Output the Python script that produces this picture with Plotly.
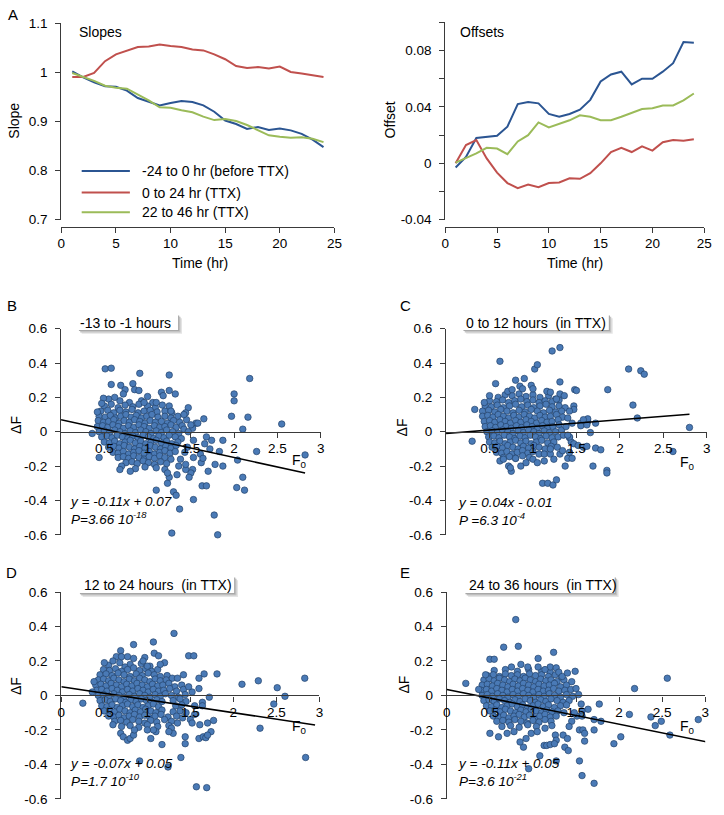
import plotly.graph_objects as go

# ---------------- data ----------------
hours = list(range(1, 25))
series_names = ["-24 to 0 hr (before TTX)", "0 to 24 hr (TTX)", "22 to 46 hr (TTX)"]

slope_before = [1.002, 0.99, 0.98, 0.972, 0.971, 0.963, 0.948, 0.94, 0.933, 0.938, 0.942, 0.94,
                0.933, 0.92, 0.902, 0.895, 0.885, 0.889, 0.883, 0.886, 0.882, 0.875, 0.863, 0.848]
slope_ttx = [0.991, 0.991, 0.999, 1.023, 1.037, 1.045, 1.052, 1.053, 1.057, 1.054, 1.052, 1.047,
             1.045, 1.037, 1.027, 1.013, 1.009, 1.011, 1.008, 1.012, 1.001, 0.998, 0.995, 0.991]
slope_late = [0.999, 0.991, 0.983, 0.973, 0.969, 0.967, 0.955, 0.943, 0.929, 0.928, 0.923, 0.919,
              0.91, 0.903, 0.905, 0.901, 0.893, 0.883, 0.872, 0.869, 0.867, 0.868, 0.865, 0.858]

offset_before = [-0.003, 0.0045, 0.018, 0.019, 0.0195, 0.026, 0.042, 0.0435, 0.0425, 0.035, 0.033, 0.035,
                 0.038, 0.045, 0.058, 0.063, 0.065, 0.056, 0.06, 0.06, 0.065, 0.071, 0.086, 0.0855]
offset_ttx = [0.0, 0.013, 0.0165, 0.0035, -0.0066, -0.014, -0.0176, -0.015, -0.017, -0.014, -0.0136, -0.0106,
              -0.011, -0.007, 0.0, 0.008, 0.011, 0.008, 0.012, 0.009, 0.015, 0.0165, 0.016, 0.017]
offset_late = [0.0005, 0.0035, 0.007, 0.011, 0.0105, 0.0065, 0.0155, 0.02, 0.029, 0.0255, 0.028, 0.0305,
               0.034, 0.033, 0.0305, 0.0305, 0.033, 0.0355, 0.0385, 0.039, 0.041, 0.041, 0.0447, 0.0495]

slope_ticks = [0.7, 0.8, 0.9, 1.0, 1.1]
slope_ticktext = ["0.7", "0.8", "0.9", "1", "1.1"]
offset_ticks = [-0.04, 0, 0.04, 0.08]
offset_ticktext = ["-0.04", "0", "0.04", "0.08"]
offset_minor_ticks = [-0.02, 0.02, 0.06, 0.1]
time_ticks = [0, 5, 10, 15, 20, 25]
dF_ticks = [-0.6, -0.4, -0.2, 0, 0.2, 0.4, 0.6]
dF_ticktext = ["-0.6", "-0.4", "-0.2", "0", "0.2", "0.4", "0.6"]
F0_ticks_noz = [0.5, 1, 1.5, 2, 2.5, 3]
F0_ticks_z = [0, 0.5, 1, 1.5, 2, 2.5, 3]

panel_titles = ["-13 to -1 hours", "0 to 12 hours\u00a0 (in TTX)",
                "12 to 24 hours\u00a0 (in TTX)", "24 to 36 hours\u00a0 (in TTX)"]
fit_text = [("y = -0.11x + 0.07", "P=3.66 10<sup>-18</sup>"),
            ("y = 0.04x - 0.01", "P =6.3 10<sup>-4</sup>"),
            ("y = -0.07x + 0.05", "P=1.7 10<sup>-10</sup>"),
            ("y = -0.11x + 0.05", "P=3.6 10<sup>-21</sup>")]
# slope, intercept, F0 end of the fitted line (as drawn)
fit_B = (-0.11, 0.07, 2.82)
fit_C = (0.04, -0.01, 2.8)
fit_D = (-0.075, 0.05, 2.95)
fit_E = (-0.101, 0.035, 3.02)

# (F0, dF) pairs, panel B
B_core = [
    (0.55, 0.19), (0.68, 0.18), (0.79, 0.17), (0.93, 0.18), (1.06, 0.17), (0.62, 0.2),
    (0.5, 0.15), (0.58, 0.16), (0.66, 0.14), (0.74, 0.155), (0.83, 0.145), (0.9, 0.16), (1.0, 0.15), (1.09, 0.14), (1.17, 0.155),
    (0.46, 0.12), (0.54, 0.125), (0.61, 0.11), (0.68, 0.125), (0.75, 0.115), (0.82, 0.13), (0.89, 0.11), (0.96, 0.12),
    (1.03, 0.125), (1.11, 0.115), (1.2, 0.12), (1.28, 0.11),
    (0.44, 0.09), (0.51, 0.085), (0.57, 0.095), (0.63, 0.08), (0.69, 0.09), (0.75, 0.1), (0.81, 0.085), (0.87, 0.095),
    (0.93, 0.08), (0.99, 0.09), (1.05, 0.1), (1.12, 0.085), (1.2, 0.09), (1.27, 0.08), (1.35, 0.09),
    (0.43, 0.065), (0.49, 0.055), (0.55, 0.06), (0.61, 0.07), (0.67, 0.05), (0.73, 0.065), (0.79, 0.055), (0.85, 0.07),
    (0.91, 0.06), (0.97, 0.05), (1.03, 0.065), (1.09, 0.055), (1.16, 0.06), (1.23, 0.05), (1.3, 0.065), (1.37, 0.055),
    (0.42, 0.03), (0.48, 0.035), (0.54, 0.025), (0.6, 0.04), (0.66, 0.03), (0.72, 0.02), (0.78, 0.035), (0.84, 0.025),
    (0.9, 0.04), (0.96, 0.03), (1.02, 0.02), (1.08, 0.035), (1.14, 0.025), (1.2, 0.03), (1.27, 0.04), (1.33, 0.025), (1.4, 0.035),
    (0.44, 0.0), (0.5, 0.005), (0.56, -0.005), (0.62, 0.01), (0.68, 0.0), (0.74, -0.01), (0.8, 0.005), (0.86, -0.005),
    (0.92, 0.01), (0.98, 0.0), (1.04, -0.01), (1.1, 0.005), (1.16, -0.005), (1.22, 0.01), (1.29, 0.0), (1.36, -0.01),
    (0.47, -0.03), (0.53, -0.025), (0.59, -0.035), (0.65, -0.02), (0.71, -0.03), (0.77, -0.04), (0.83, -0.025), (0.89, -0.035),
    (0.95, -0.02), (1.01, -0.03), (1.07, -0.04), (1.13, -0.025), (1.19, -0.035), (1.25, -0.02), (1.32, -0.03), (1.39, -0.04),
    (0.5, -0.06), (0.56, -0.065), (0.62, -0.055), (0.68, -0.07), (0.74, -0.06), (0.8, -0.05), (0.86, -0.065), (0.92, -0.055),
    (0.98, -0.07), (1.04, -0.06), (1.1, -0.05), (1.16, -0.065), (1.22, -0.055), (1.28, -0.07), (1.35, -0.06),
    (0.55, -0.09), (0.61, -0.085), (0.67, -0.095), (0.73, -0.08), (0.79, -0.09), (0.85, -0.1), (0.91, -0.085), (0.97, -0.095),
    (1.03, -0.08), (1.09, -0.09), (1.15, -0.1), (1.21, -0.085), (1.27, -0.095), (1.33, -0.08),
    (0.6, -0.12), (0.66, -0.125), (0.72, -0.115), (0.78, -0.13), (0.84, -0.12), (0.9, -0.11), (0.96, -0.125), (1.02, -0.115),
    (1.08, -0.13), (1.14, -0.12), (1.2, -0.11), (1.26, -0.125), (1.32, -0.115),
    (0.66, -0.15), (0.72, -0.145), (0.78, -0.155), (0.84, -0.14), (0.9, -0.15), (0.96, -0.16), (1.02, -0.145), (1.08, -0.155),
    (1.14, -0.14), (1.2, -0.15), (1.27, -0.16),
    (0.75, -0.18), (0.82, -0.175), (0.88, -0.185), (0.95, -0.17), (1.01, -0.18), (1.08, -0.19), (1.15, -0.175), (1.22, -0.185),
    (0.86, -0.215), (0.97, -0.205), (1.1, -0.21), (1.2, -0.22), (0.7, -0.2),
]
B_spread = [
    (0.51, 0.366), (0.58, 0.37), (0.58, 0.275), (0.91, 0.34), (1.25, 0.33), (2.18, 0.31), (2.0, 0.22), (2.0, 0.18),
    (0.83, 0.28), (0.69, 0.27), (1.25, 0.24), (1.32, 0.22), (1.16, 0.23), (1.18, 0.21), (1.0, 0.205), (0.85, 0.245),
    (0.9, 0.24), (0.74, 0.245), (0.72, 0.22), (0.49, 0.195), (0.47, 0.165), (1.47, 0.14), (1.25, 0.15), (1.1, 0.17),
    (0.96, 0.17), (1.97, 0.09), (2.16, 0.085), (2.1, 0.015), (2.55, 0.045), (1.65, 0.075), (1.56, 0.05), (1.44, 0.11),
    (1.52, 0.02), (1.42, 0.015), (1.27, 0.12), (0.36, -0.01), (0.42, 0.115), (0.44, -0.15), (0.68, -0.22), (0.8, -0.23),
    (1.1, -0.34), (1.23, -0.3), (1.3, -0.35), (1.33, -0.37), (1.37, -0.45), (1.28, -0.59), (1.53, -0.395), (1.63, -0.315),
    (1.68, -0.315), (1.77, -0.485), (1.81, -0.6), (2.03, -0.325), (2.12, -0.34), (2.1, -0.265), (2.04, -0.165),
    (2.26, -0.115), (2.82, -0.135), (1.87, -0.2), (1.78, -0.19), (1.7, -0.23), (1.87, -0.05), (1.83, -0.115),
    (1.74, -0.05), (1.72, -0.1), (1.68, -0.03), (1.66, -0.07), (1.61, -0.13), (1.62, -0.18), (1.64, -0.155),
    (1.53, -0.15), (1.52, -0.22), (1.5, -0.24), (1.48, -0.265), (1.44, -0.22), (1.44, -0.19), (1.38, -0.16),
    (1.36, -0.2), (1.34, -0.25), (1.25, -0.265), (1.23, -0.24), (1.45, 0.07), (1.5, 0.04), (1.53, -0.05), (1.42, 0.1),
    (1.58, 0.05), (1.46, -0.09), (1.43, -0.12), (1.47, 0.0),
]

C_core = [
    (0.6, 0.2), (0.68, 0.215), (0.76, 0.21), (0.84, 0.22), (0.92, 0.205), (1.0, 0.215), (1.08, 0.2), (1.18, 0.21), (1.26, 0.19),
    (0.5, 0.18), (0.58, 0.175), (0.65, 0.185), (0.72, 0.17), (0.79, 0.18), (0.86, 0.19), (0.93, 0.175), (1.0, 0.185),
    (1.07, 0.17), (1.14, 0.18), (1.22, 0.175), (1.3, 0.185),
    (0.45, 0.15), (0.52, 0.145), (0.59, 0.155), (0.66, 0.14), (0.73, 0.15), (0.8, 0.16), (0.87, 0.145), (0.94, 0.155),
    (1.01, 0.14), (1.08, 0.15), (1.15, 0.16), (1.22, 0.145), (1.3, 0.15), (1.37, 0.14),
    (0.42, 0.12), (0.49, 0.125), (0.56, 0.115), (0.63, 0.13), (0.7, 0.12), (0.77, 0.11), (0.84, 0.125), (0.91, 0.115),
    (0.98, 0.13), (1.05, 0.12), (1.12, 0.11), (1.19, 0.125), (1.26, 0.115), (1.33, 0.12),
    (0.42, 0.09), (0.48, 0.095), (0.54, 0.085), (0.6, 0.1), (0.66, 0.09), (0.72, 0.08), (0.78, 0.095), (0.84, 0.085),
    (0.9, 0.1), (0.96, 0.09), (1.02, 0.08), (1.08, 0.095), (1.14, 0.085), (1.2, 0.09), (1.27, 0.1), (1.34, 0.085),
    (0.44, 0.06), (0.5, 0.065), (0.56, 0.055), (0.62, 0.07), (0.68, 0.06), (0.74, 0.05), (0.8, 0.065), (0.86, 0.055),
    (0.92, 0.07), (0.98, 0.06), (1.04, 0.05), (1.1, 0.065), (1.16, 0.055), (1.22, 0.06), (1.29, 0.07),
    (0.45, 0.03), (0.51, 0.035), (0.57, 0.025), (0.63, 0.04), (0.69, 0.03), (0.75, 0.02), (0.81, 0.035), (0.87, 0.025),
    (0.93, 0.04), (0.99, 0.03), (1.05, 0.02), (1.11, 0.035), (1.17, 0.025), (1.23, 0.03), (1.3, 0.04),
    (0.47, 0.0), (0.53, 0.005), (0.59, -0.005), (0.65, 0.01), (0.71, 0.0), (0.77, -0.01), (0.83, 0.005), (0.89, -0.005),
    (0.95, 0.01), (1.01, 0.0), (1.07, -0.01), (1.13, 0.005), (1.19, -0.005), (1.26, 0.0), (1.33, 0.01),
    (0.49, -0.03), (0.55, -0.025), (0.61, -0.035), (0.67, -0.02), (0.73, -0.03), (0.79, -0.04), (0.85, -0.025), (0.91, -0.035),
    (0.97, -0.02), (1.03, -0.03), (1.09, -0.04), (1.15, -0.025), (1.22, -0.035), (1.29, -0.03),
    (0.5, -0.06), (0.56, -0.065), (0.62, -0.055), (0.68, -0.07), (0.74, -0.06), (0.8, -0.05), (0.86, -0.065), (0.92, -0.055),
    (0.98, -0.07), (1.04, -0.06), (1.1, -0.05), (1.17, -0.065), (1.24, -0.06),
    (0.53, -0.09), (0.59, -0.085), (0.65, -0.095), (0.71, -0.08), (0.77, -0.09), (0.83, -0.1), (0.89, -0.085), (0.95, -0.095),
    (1.01, -0.08), (1.07, -0.09), (1.14, -0.1), (1.21, -0.085),
    (0.58, -0.12), (0.64, -0.125), (0.7, -0.115), (0.76, -0.13), (0.82, -0.12), (0.88, -0.11), (0.94, -0.125), (1.0, -0.115), (1.07, -0.13),
    (0.66, -0.15), (0.73, -0.145), (0.8, -0.155), (0.88, -0.14), (0.96, -0.15),
]
C_spread = [
    (0.62, 0.41), (1.22, 0.47), (1.31, 0.49), (1.02, 0.365), (1.05, 0.39), (2.1, 0.365), (2.24, 0.355), (2.28, 0.335),
    (1.86, 0.245), (2.15, 0.155), (0.57, 0.28), (0.8, 0.3), (0.9, 0.31), (1.31, 0.29), (1.48, 0.245), (1.5, 0.24),
    (1.16, 0.235), (1.2, 0.23), (0.33, 0.13), (0.44, 0.17), (0.5, 0.21), (0.71, 0.235), (0.76, 0.245), (0.85, 0.265),
    (0.88, 0.25), (0.98, 0.27), (1.0, 0.25), (1.31, 0.22), (1.36, 0.21), (1.27, 0.19), (1.47, 0.15), (1.47, 0.13),
    (0.3, -0.055), (2.2, 0.08), (1.72, 0.05), (1.63, 0.06), (1.63, 0.075), (1.55, 0.05), (1.55, 0.035), (1.42, -0.035),
    (1.66, -0.005), (0.62, -0.17), (0.66, -0.16), (0.72, -0.2), (0.75, -0.23), (0.74, -0.21), (0.8, -0.155), (0.86, -0.2),
    (0.92, -0.18), (1.0, -0.16), (1.05, -0.18), (1.11, -0.3), (1.17, -0.3), (1.23, -0.31), (1.27, -0.28), (1.13, -0.17),
    (1.13, -0.13), (1.2, -0.13), (1.2, -0.1), (1.24, -0.16), (1.28, -0.09), (1.31, -0.13), (1.34, -0.11), (1.37, -0.2),
    (1.4, -0.155), (1.45, -0.155), (1.42, -0.12), (1.44, -0.06), (1.42, -0.03), (1.47, -0.07), (1.52, -0.08), (1.58, -0.09),
    (1.62, -0.085), (1.72, -0.095), (1.78, -0.105), (1.69, -0.2), (1.85, -0.225), (1.85, -0.24), (2.61, -0.115),
    (2.8, 0.025), (1.35, -0.02), (1.4, -0.02), (1.58, 0.07), (1.62, 0.04), (1.45, 0.05), (1.4, 0.08), (1.42, 0.12), (1.38, 0.03),
]

D_core = [
    (0.55, 0.175), (0.68, 0.19), (0.8, 0.18), (0.93, 0.185), (1.03, 0.17), (0.74, 0.165),
    (0.49, 0.15), (0.56, 0.145), (0.63, 0.155), (0.7, 0.14), (0.77, 0.15), (0.84, 0.16), (0.91, 0.145), (0.98, 0.155),
    (1.05, 0.14), (1.12, 0.15),
    (0.45, 0.12), (0.52, 0.125), (0.59, 0.115), (0.66, 0.13), (0.73, 0.12), (0.8, 0.11), (0.87, 0.125), (0.94, 0.115),
    (1.01, 0.13), (1.08, 0.12), (1.15, 0.11), (1.23, 0.115),
    (0.43, 0.09), (0.49, 0.095), (0.55, 0.085), (0.61, 0.1), (0.67, 0.09), (0.73, 0.08), (0.79, 0.095), (0.85, 0.085),
    (0.91, 0.1), (0.97, 0.09), (1.03, 0.08), (1.09, 0.095), (1.15, 0.085), (1.22, 0.09), (1.29, 0.1),
    (0.4, 0.06), (0.46, 0.065), (0.52, 0.055), (0.58, 0.07), (0.64, 0.06), (0.7, 0.05), (0.76, 0.065), (0.82, 0.055),
    (0.88, 0.07), (0.94, 0.06), (1.0, 0.05), (1.06, 0.065), (1.12, 0.055), (1.18, 0.06), (1.25, 0.07), (1.32, 0.05), (1.4, 0.06),
    (0.41, 0.03), (0.47, 0.035), (0.53, 0.025), (0.59, 0.04), (0.65, 0.03), (0.71, 0.02), (0.77, 0.035), (0.83, 0.025),
    (0.89, 0.04), (0.95, 0.03), (1.01, 0.02), (1.07, 0.035), (1.13, 0.025), (1.19, 0.03), (1.26, 0.04), (1.34, 0.025), (1.42, 0.035),
    (0.43, 0.0), (0.49, 0.005), (0.55, -0.005), (0.61, 0.01), (0.67, 0.0), (0.73, -0.01), (0.79, 0.005), (0.85, -0.005),
    (0.91, 0.01), (0.97, 0.0), (1.03, -0.01), (1.09, 0.005), (1.15, -0.005), (1.21, 0.01), (1.28, 0.0), (1.36, -0.01), (1.44, 0.005),
    (0.45, -0.03), (0.51, -0.025), (0.57, -0.035), (0.63, -0.02), (0.69, -0.03), (0.75, -0.04), (0.81, -0.025), (0.87, -0.035),
    (0.93, -0.02), (0.99, -0.03), (1.05, -0.04), (1.11, -0.025), (1.17, -0.035), (1.3, -0.03), (1.38, -0.02), (1.45, -0.035),
    (0.47, -0.06), (0.53, -0.065), (0.59, -0.055), (0.65, -0.07), (0.71, -0.06), (0.77, -0.05), (0.83, -0.065), (0.89, -0.055),
    (0.95, -0.07), (1.01, -0.06), (1.07, -0.05), (1.13, -0.065), (1.33, -0.06), (1.4, -0.055),
    (0.5, -0.09), (0.56, -0.085), (0.62, -0.095), (0.68, -0.08), (0.74, -0.09), (0.8, -0.1), (0.86, -0.085), (0.92, -0.095),
    (0.98, -0.08), (1.04, -0.09), (1.1, -0.1), (1.17, -0.085), (1.3, -0.095), (1.38, -0.09), (1.45, -0.1),
    (0.55, -0.12), (0.61, -0.125), (0.67, -0.115), (0.73, -0.13), (0.79, -0.12), (0.85, -0.11), (0.91, -0.125), (0.97, -0.115),
    (1.03, -0.13), (1.09, -0.12), (1.16, -0.11), (1.24, -0.125), (1.34, -0.12), (1.41, -0.13),
    (0.62, -0.15), (0.69, -0.145), (0.76, -0.155), (0.83, -0.14), (0.9, -0.15), (0.97, -0.16), (1.04, -0.145), (1.11, -0.155),
    (1.2, -0.14), (1.28, -0.15),
    (0.7, -0.18), (0.8, -0.175), (0.9, -0.185), (1.0, -0.17), (1.12, -0.18), (1.25, -0.175),
]
D_spread = [
    (1.31, 0.36), (1.07, 0.31), (0.84, 0.295), (0.69, 0.26), (0.64, 0.225), (0.7, 0.225), (0.77, 0.225), (0.84, 0.215),
    (0.97, 0.22), (1.08, 0.245), (1.13, 0.23), (1.48, 0.23), (1.54, 0.23), (1.81, 0.125), (1.66, 0.125), (1.6, 0.1),
    (1.6, 0.04), (1.72, -0.01), (1.64, -0.04), (1.64, -0.06), (2.1, 0.065), (2.29, 0.085), (2.51, 0.045), (2.6, -0.005),
    (2.47, -0.05), (2.83, 0.1), (2.84, -0.36), (2.31, -0.19), (1.7, -0.16), (1.74, -0.21), (1.77, -0.145), (1.61, -0.17),
    (1.6, -0.25), (1.65, -0.24), (1.68, -0.245), (1.7, -0.23), (1.44, -0.28), (1.44, -0.24), (1.39, -0.36), (1.24, -0.415),
    (0.91, -0.38), (1.57, -0.53), (1.69, -0.535), (1.17, -0.285), (1.04, -0.25), (1.1, -0.21), (1.07, -0.2), (1.0, -0.2),
    (0.25, -0.045), (0.69, -0.22), (0.72, -0.24), (0.77, -0.26), (0.8, -0.25), (0.84, -0.23), (1.28, -0.19), (1.3, -0.22),
    (1.25, -0.21), (1.5, -0.14), (1.52, -0.16), (1.55, -0.06), (1.52, 0.02), (1.48, 0.05), (1.2, 0.19), (1.15, 0.18),
    (1.35, 0.1), (1.42, 0.12), (1.55, -0.11), (0.6, 0.2), (0.5, 0.19), (0.95, 0.2), (1.0, 0.17), (0.38, 0.08), (0.36, 0.02),
    (0.85, -0.2), (0.6, -0.17), (1.35, -0.16),
]

E_core = [
    (0.55, 0.145), (0.68, 0.15), (0.82, 0.14), (0.95, 0.15), (1.1, 0.14), (1.2, 0.135),
    (0.47, 0.115), (0.54, 0.12), (0.61, 0.11), (0.68, 0.125), (0.75, 0.115), (0.82, 0.12), (0.89, 0.11), (0.96, 0.125),
    (1.03, 0.115), (1.1, 0.12), (1.18, 0.11), (1.26, 0.12), (1.33, 0.105),
    (0.43, 0.09), (0.49, 0.095), (0.55, 0.085), (0.61, 0.1), (0.67, 0.09), (0.73, 0.08), (0.79, 0.095), (0.85, 0.085),
    (0.91, 0.1), (0.97, 0.09), (1.03, 0.08), (1.09, 0.095), (1.15, 0.085), (1.21, 0.09), (1.28, 0.08), (1.36, 0.09),
    (0.41, 0.06), (0.47, 0.065), (0.53, 0.055), (0.59, 0.07), (0.65, 0.06), (0.71, 0.05), (0.77, 0.065), (0.83, 0.055),
    (0.89, 0.07), (0.95, 0.06), (1.01, 0.05), (1.07, 0.065), (1.13, 0.055), (1.19, 0.06), (1.25, 0.07), (1.32, 0.05), (1.39, 0.06),
    (0.4, 0.03), (0.46, 0.035), (0.52, 0.025), (0.58, 0.04), (0.64, 0.03), (0.7, 0.02), (0.76, 0.035), (0.82, 0.025),
    (0.88, 0.04), (0.94, 0.03), (1.0, 0.02), (1.06, 0.035), (1.12, 0.025), (1.18, 0.03), (1.24, 0.04), (1.3, 0.025),
    (1.37, 0.03), (1.44, 0.035),
    (0.41, 0.0), (0.47, 0.005), (0.53, -0.005), (0.59, 0.01), (0.65, 0.0), (0.71, -0.01), (0.77, 0.005), (0.83, -0.005),
    (0.89, 0.01), (0.95, 0.0), (1.01, -0.01), (1.07, 0.005), (1.13, -0.005), (1.19, 0.01), (1.25, 0.0), (1.32, -0.01),
    (1.39, 0.005), (1.46, -0.005),
    (0.43, -0.03), (0.49, -0.025), (0.55, -0.035), (0.61, -0.02), (0.67, -0.03), (0.73, -0.04), (0.79, -0.025), (0.85, -0.035),
    (0.91, -0.02), (0.97, -0.03), (1.03, -0.04), (1.09, -0.025), (1.15, -0.035), (1.21, -0.02), (1.28, -0.03), (1.35, -0.04), (1.42, -0.03),
    (0.46, -0.06), (0.52, -0.065), (0.58, -0.055), (0.64, -0.07), (0.7, -0.06), (0.76, -0.05), (0.82, -0.065), (0.88, -0.055),
    (0.94, -0.07), (1.0, -0.06), (1.06, -0.05), (1.12, -0.065), (1.18, -0.055), (1.25, -0.07), (1.32, -0.06), (1.39, -0.055),
    (0.5, -0.09), (0.56, -0.085), (0.62, -0.095), (0.68, -0.08), (0.74, -0.09), (0.8, -0.1), (0.86, -0.085), (0.92, -0.095),
    (0.98, -0.08), (1.04, -0.09), (1.1, -0.1), (1.16, -0.085), (1.22, -0.095), (1.29, -0.09), (1.36, -0.1),
    (0.54, -0.12), (0.6, -0.125), (0.66, -0.115), (0.72, -0.13), (0.78, -0.12), (0.84, -0.11), (0.9, -0.125), (0.96, -0.115),
    (1.02, -0.13), (1.08, -0.12), (1.14, -0.11), (1.2, -0.125), (1.27, -0.12),
    (0.58, -0.15), (0.65, -0.145), (0.72, -0.155), (0.79, -0.14), (0.86, -0.15), (0.93, -0.16), (1.0, -0.145), (1.07, -0.155),
    (1.14, -0.14), (1.21, -0.15),
    (0.64, -0.18), (0.74, -0.175), (0.84, -0.185), (0.94, -0.17), (1.04, -0.18), (1.14, -0.19), (1.22, -0.175),
]
E_spread = [
    (0.8, 0.44), (0.66, 0.28), (0.83, 0.285), (1.24, 0.25), (1.06, 0.215), (0.5, 0.21), (0.55, 0.21), (0.75, 0.165),
    (0.86, 0.18), (0.94, 0.165), (1.06, 0.165), (1.2, 0.165), (1.14, 0.15), (1.27, 0.16), (1.3, 0.135), (1.34, 0.11),
    (1.49, 0.14), (0.45, 0.12), (0.22, 0.07), (0.37, 0.035), (1.5, 0.04), (1.53, 0.005), (1.56, -0.05), (1.57, -0.09),
    (1.51, -0.12), (1.57, -0.12), (1.54, -0.2), (1.58, -0.2), (1.71, -0.2), (1.6, -0.265), (1.77, -0.05), (1.71, -0.14),
    (1.79, -0.15), (1.54, -0.38), (1.57, -0.465), (1.71, -0.51), (1.27, -0.38), (0.95, -0.425), (1.08, -0.35), (1.37, -0.3),
    (1.41, -0.32), (1.13, -0.29), (1.16, -0.29), (1.2, -0.285), (0.89, -0.3), (0.85, -0.27), (0.92, -0.25), (0.5, -0.22),
    (0.6, -0.24), (0.7, -0.22), (2.12, -0.11), (2.18, 0.04), (2.56, 0.1), (1.94, -0.28), (2.02, -0.24), (2.37, -0.125),
    (2.42, -0.175), (2.49, -0.15), (2.59, -0.23), (2.92, -0.14), (1.26, -0.23), (1.27, -0.26), (1.25, -0.28), (1.35, -0.23),
    (1.4, -0.25), (1.45, -0.15), (1.42, -0.18), (1.48, -0.1), (1.45, 0.08), (1.4, 0.13), (0.98, -0.22), (1.05, -0.21),
    (0.78, -0.21), (1.6, -0.22), (1.64, -0.08),
]

# ---------------- figure ----------------
W, H = 724, 815
FONT = "Liberation Sans, Arial, sans-serif"
AXC = "#3a3a3a"
LINE_COLORS = ["#2b5592", "#c0504d", "#9bbb59"]
MARK_FILL = "#4a7ab6"
MARK_EDGE = "#24436b"


def fx(px):
    return px / W


def fy(py):
    return 1 - py / H


fig = go.Figure()

for vals, name, c in zip([slope_before, slope_ttx, slope_late], series_names, LINE_COLORS):
    fig.add_trace(go.Scatter(x=hours, y=vals, mode="lines", name=name, showlegend=False,
                             line=dict(color=c, width=2), xaxis="x", yaxis="y"))
for vals, name, c in zip([offset_before, offset_ttx, offset_late], series_names, LINE_COLORS):
    fig.add_trace(go.Scatter(x=hours, y=vals, mode="lines", name=name, showlegend=False,
                             line=dict(color=c, width=2), xaxis="x2", yaxis="y2"))

panels = [(B_core + B_spread, fit_B, "3"), (C_core + C_spread, fit_C, "4"),
          (D_core + D_spread, fit_D, "5"), (E_core + E_spread, fit_E, "6")]
for pts, fit, ax in panels:
    fig.add_trace(go.Scatter(x=[p[0] for p in pts], y=[p[1] for p in pts], mode="markers",
                             showlegend=False, cliponaxis=False,
                             marker=dict(size=6.5, color=MARK_FILL, line=dict(color=MARK_EDGE, width=0.7)),
                             xaxis="x" + ax, yaxis="y" + ax))
    m, b, xend = fit
    fig.add_trace(go.Scatter(x=[0, xend], y=[b, m * xend + b], mode="lines", showlegend=False,
                             cliponaxis=False, line=dict(color="black", width=1.6),
                             xaxis="x" + ax, yaxis="y" + ax))

tickfont = dict(family=FONT, size=13.5, color="black")


def xaxis(dom_px, pos_py, rng, tv, tt, layer="below traces"):
    return dict(domain=[fx(dom_px[0]), fx(dom_px[1])], anchor="free", position=fy(pos_py),
                range=rng, tickvals=tv, ticktext=tt, showline=True, linecolor=AXC, linewidth=1.3,
                ticks="outside", ticklen=5, tickcolor=AXC, tickwidth=1.2, showgrid=False,
                zeroline=False, tickfont=tickfont, layer=layer, ticklabelstandoff=-1)


def yaxis(dom_py, anchor, rng, tv, tt, layer="below traces"):
    return dict(domain=[fy(dom_py[1]), fy(dom_py[0])], anchor=anchor, range=rng, tickvals=tv,
                ticktext=tt, showline=True, linecolor=AXC, linewidth=1.3, ticks="outside",
                ticklen=5, tickcolor=AXC, tickwidth=1.2, showgrid=False, zeroline=False,
                tickfont=tickfont, layer=layer, ticklabelstandoff=5)


tt_time = [str(t) for t in time_ticks]
yaxis2 = yaxis((15.6, 216.7), "x2", [-0.04, 0.1], offset_ticks, offset_ticktext)
yaxis2["minor"] = dict(tickmode="array", tickvals=offset_minor_ticks, ticks="outside", ticklen=5,
                       tickcolor=AXC, tickwidth=1.2, showgrid=False)
layout_axes = dict(
    xaxis=xaxis((58.3, 336), 224, [0, 25], time_ticks, tt_time),
    yaxis=yaxis((16.7, 216.7), "x", [0.7, 1.1], slope_ticks, slope_ticktext),
    xaxis2=xaxis((448.7, 712), 224, [0, 25], time_ticks, tt_time),
    yaxis2=yaxis2,
    xaxis3=xaxis((58, 322), 432.7, [0, 3], F0_ticks_noz, [str(v) for v in F0_ticks_noz], "above traces"),
    yaxis3=yaxis((327.7, 537.7), "x3", [-0.6, 0.6], dF_ticks, dF_ticktext, "above traces"),
    xaxis4=xaxis((449.5, 714.7), 432.7, [0, 3], F0_ticks_noz, [str(v) for v in F0_ticks_noz], "above traces"),
    yaxis4=yaxis((327.7, 537.7), "x4", [-0.6, 0.6], dF_ticks, dF_ticktext, "above traces"),
    xaxis5=xaxis((58.3, 320.7), 701.3, [0, 3], F0_ticks_z, [str(v) for v in F0_ticks_z], "above traces"),
    yaxis5=yaxis((596, 806.7), "x5", [-0.6, 0.6], dF_ticks, dF_ticktext, "above traces"),
    xaxis6=xaxis((450.3, 713), 701.3, [0, 3], F0_ticks_z, [str(v) for v in F0_ticks_z], "above traces"),
    yaxis6=yaxis((596, 806.7), "x6", [-0.6, 0.6], dF_ticks, dF_ticktext, "above traces"),
)

annotations = []


def ann(text, px, py, xanchor="left", size=14, angle=0, italic=False):
    if italic:
        text = "<i>" + text + "</i>"
    annotations.append(dict(text=text, x=fx(px), y=fy(py), xref="paper", yref="paper",
                            xanchor=xanchor, yanchor="middle", showarrow=False, textangle=angle,
                            borderpad=0, align="left",
                            font=dict(family=FONT, size=size, color="black")))


# panel letters
for letter, px, py in [("A", 9, 8), ("B", 8, 304), ("C", 408, 304), ("D", 8, 576), ("E", 408, 576)]:
    ann(letter, px, py, "center", 15)

ann("Slopes", 75, 25)
ann("Offsets", 463, 25)
ann("Slope", 10, 116, "center", 14, -90)
ann("Offset", 392, 115, "center", 14, -90)
ann("Time (hr)", 199.7, 261, "center", 14)
ann("Time (hr)", 581, 261, "center", 14)

# manual legend in panel A
shapes = []
for name, c, py in zip(series_names, LINE_COLORS, [167, 189, 209]):
    shapes.append(dict(type="line", xref="paper", yref="paper", x0=fx(79), x1=fx(128),
                       y0=fy(py), y1=fy(py), line=dict(color=c, width=2)))
    ann(name, 139, py, "left", 14)

# scatter panel decorations
box_px = [(75, 177, 313, 329), (466, 615, 313, 329), (76, 234, 580, 597), (468, 621, 580, 597)]
title_pos = [(76, 322), (468.7, 322), (80, 589), (472, 589)]
dF_pos = [(12, 426), (405, 428), (12, 692), (407, 690)]
F0_pos = [(300, 463), (695, 465), (300, 733), (695, 733)]
eq_pos = [(65.7, 513), (461, 514), (65.7, 779.5), (461, 779.5)]

for i in range(4):
    x0, x1, y0, y1 = box_px[i]
    for off, col in [(4, "#e4e4e4"), (2.5, "#c4c4c4"), (1.2, "#a8a8a8")]:
        shapes.append(dict(type="rect", xref="paper", yref="paper", x0=fx(x0 + off), x1=fx(x1 + off),
                           y0=fy(y1 + off), y1=fy(y0 + off), fillcolor=col, line=dict(width=0)))
    shapes.append(dict(type="rect", xref="paper", yref="paper", x0=fx(x0), x1=fx(x1),
                       y0=fy(y1), y1=fy(y0), fillcolor="white", line=dict(width=0)))
    ann(panel_titles[i], title_pos[i][0], title_pos[i][1], "left", 14)
    ann("\u0394F", dF_pos[i][0], dF_pos[i][1], "center", 14, -90)
    ann("F<sub>0</sub>", F0_pos[i][0], F0_pos[i][1], "center", 14)
    ann("<i>" + fit_text[i][0] + "</i><br><i>" + fit_text[i][1] + "</i>",
        eq_pos[i][0], eq_pos[i][1], "left", 13.5)

fig.update_layout(width=W, height=H, margin=dict(l=0, r=0, t=0, b=0), autosize=False,
                  paper_bgcolor="white", plot_bgcolor="rgba(0,0,0,0)",
                  font=dict(family=FONT, size=14, color="black"),
                  showlegend=False, annotations=annotations, shapes=shapes, **layout_axes)

fig.write_html("out.html", config={"displayModeBar": False},
               post_script="document.body.style.margin='0';document.body.style.overflow='hidden';")
